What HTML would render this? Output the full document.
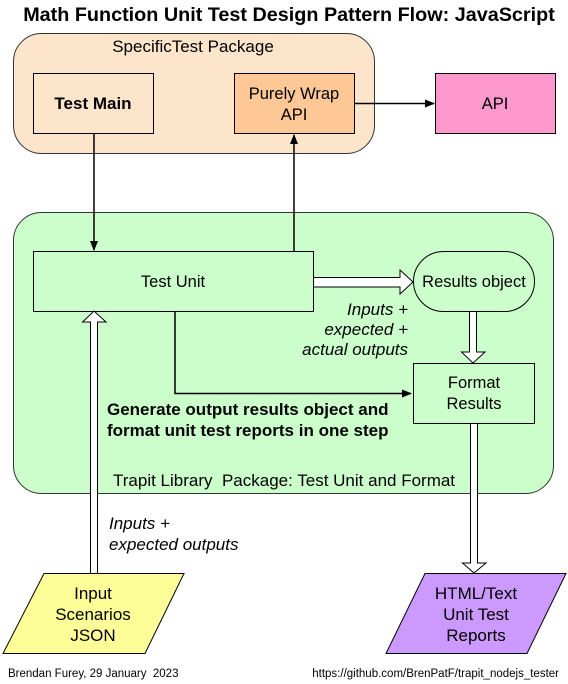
<!DOCTYPE html>
<html><head><meta charset="utf-8"><style>
html,body{margin:0;padding:0;background:#fff;}
svg{display:block;}
text{font-family:"Liberation Sans",Arial,sans-serif;}
</style></head><body>
<svg width="568" height="684" viewBox="0 0 568 684" xmlns="http://www.w3.org/2000/svg">
<defs>
<marker id="ah" markerWidth="10" markerHeight="8" refX="9" refY="4" orient="auto" markerUnits="userSpaceOnUse"><path d="M0,0 L10,4 L0,8 z" fill="#000"/></marker>
</defs>
<text x="289" y="21" font-size="19.8" font-weight="bold" text-anchor="middle">Math Function Unit Test Design Pattern Flow: JavaScript</text>

<rect x="13.5" y="33.5" width="361" height="120" rx="28" fill="#fde5cc" stroke="#333" stroke-width="1"/>
<text x="193" y="52" font-size="17" text-anchor="middle">SpecificTest Package</text>
<rect x="33.5" y="73.5" width="120" height="60" fill="#fde5cc" stroke="#000"/>
<text x="93" y="109" font-size="17" font-weight="bold" text-anchor="middle">Test Main</text>
<rect x="234.5" y="73.5" width="120" height="60" fill="#fdc796" stroke="#000"/>
<text x="294" y="99" font-size="16.5" text-anchor="middle">Purely Wrap</text>
<text x="294" y="120" font-size="16.5" text-anchor="middle">API</text>
<rect x="435.5" y="73.5" width="120" height="60" fill="#fd99cc" stroke="#000"/>
<text x="495" y="109" font-size="16.5" text-anchor="middle">API</text>
<line x1="354" y1="103.5" x2="434" y2="103.5" stroke="#000" stroke-width="1.5" marker-end="url(#ah)"/>

<rect x="13.5" y="212.5" width="540" height="281" rx="28" fill="#ccfecc" stroke="#333" stroke-width="1"/>
<line x1="94" y1="134" x2="94" y2="250" stroke="#000" stroke-width="1.5" marker-end="url(#ah)"/>
<line x1="294" y1="251" x2="294" y2="135" stroke="#000" stroke-width="1.5" marker-end="url(#ah)"/>
<rect x="33.5" y="251.5" width="280" height="60" fill="#ccfecc" stroke="#000"/>
<text x="173" y="287" font-size="16.5" text-anchor="middle">Test Unit</text>
<rect x="413.5" y="251.5" width="121" height="60" rx="30" fill="#ccfecc" stroke="#000"/>
<text x="474" y="287" font-size="16.5" text-anchor="middle">Results object</text>
<path d="M314,277.5 H400 V270 L413,282 L400,294 V287 H314" fill="#fff" stroke="#000"/>
<path d="M469.5,312 V352 H461.5 L473,363 L485,352 H476.5 V312" fill="#fff" stroke="#000"/>
<text x="408" y="315" font-size="17" font-style="italic" text-anchor="end">Inputs +</text>
<text x="408" y="335" font-size="17" font-style="italic" text-anchor="end">expected +</text>
<text x="408" y="355" font-size="17" font-style="italic" text-anchor="end">actual outputs</text>
<rect x="413.5" y="363.5" width="121" height="60" fill="#ccfecc" stroke="#000"/>
<text x="474" y="388" font-size="16.5" text-anchor="middle">Format</text>
<text x="474" y="409" font-size="16.5" text-anchor="middle">Results</text>
<polyline points="175,312 175,393.5 411,393.5" fill="none" stroke="#000" stroke-width="1.5" marker-end="url(#ah)"/>
<text x="107" y="415" font-size="17" font-weight="bold">Generate output results object and</text>
<text x="107" y="436" font-size="17" font-weight="bold">format unit test reports in one step</text>
<text x="113" y="486" font-size="17">Trapit Library&#160; Package: Test Unit and Format</text>

<path d="M90.5,573 V322 H82.5 L94,311 L106,322 H97.5 V573" fill="#fff" stroke="#000"/>
<path d="M470.5,424 V563 H462.5 L474,573 L486,563 H477.5 V424" fill="#fff" stroke="#000"/>
<text x="109" y="529" font-size="17" font-style="italic">Inputs +</text>
<text x="109" y="550" font-size="17" font-style="italic">expected outputs</text>

<polygon points="44,573.5 184,573.5 145,653.5 3,653.5" fill="#fefe99" stroke="#000"/>
<text x="93" y="599" font-size="17" text-anchor="middle">Input</text>
<text x="93" y="620" font-size="17" text-anchor="middle">Scenarios</text>
<text x="93" y="641" font-size="17" text-anchor="middle">JSON</text>
<polygon points="425,573.5 566,573.5 527,653.5 386,653.5" fill="#cc99fe" stroke="#000"/>
<text x="476" y="599" font-size="17" text-anchor="middle">HTML/Text</text>
<text x="476" y="620" font-size="17" text-anchor="middle">Unit Test</text>
<text x="476" y="641" font-size="17" text-anchor="middle">Reports</text>

<text x="8" y="677" font-size="11.5">Brendan Furey, 29 January&#160; 2023</text>
<text x="559" y="677" font-size="11.5" text-anchor="end">https://github.com/BrenPatF/trapit_nodejs_tester</text>
</svg>
</body></html>
